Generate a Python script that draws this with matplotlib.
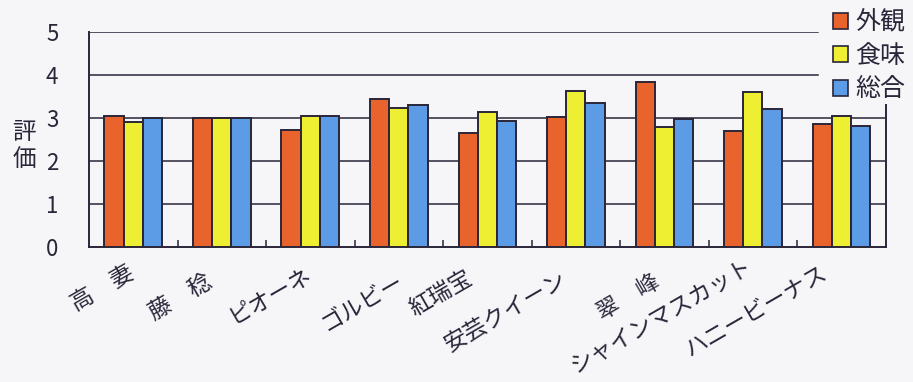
import numpy as np
import matplotlib.pyplot as plt
from matplotlib.patches import Patch

plt.rcParams['font.family'] = ['Noto Sans CJK JP', 'DejaVu Sans']

# data
varieties = ['高\u3000妻', '藤\u3000稔', 'ピオーネ', 'ゴルビー', '紅瑞宝',
             '安芸クイーン', '翠\u3000峰', 'シャインマスカット', 'ハニービーナス']
gaikan = [3.05, 3.00, 2.72, 3.44, 2.65, 3.02, 3.84, 2.70, 2.86]
shokumi = [2.90, 3.00, 3.05, 3.23, 3.14, 3.63, 2.80, 3.60, 3.04]
sogo = [3.00, 3.00, 3.05, 3.30, 2.93, 3.35, 2.98, 3.21, 2.81]
series_names = ['外観', '食味', '総合']
y_ticks = [0, 1, 2, 3, 4, 5]

colors = ['#e8642c', '#eeee32', '#5c9be6']
ink = '#2a2538'
bg = '#f6f6f9'

fig = plt.figure(figsize=(9.13, 3.82), dpi=100, facecolor=bg)
ax = fig.add_axes([0.0975, 0.3534, 0.8725, 0.5628])
ax.set_facecolor(bg)

x = np.arange(len(varieties))
w = 0.217
for k, vals in enumerate([gaikan, shokumi, sogo]):
    ax.bar(x + (k - 1) * w, vals, width=w, color=colors[k],
           edgecolor=ink, linewidth=1.4, zorder=3)

# horizontal rules behind bars; the top two stop short of the legend
for yv in y_ticks[1:]:
    xmax = 0.915 if yv >= 4 else 1.0
    ax.axhline(yv, xmin=0, xmax=xmax, color=ink, lw=1.1, zorder=1)

ax.set_xlim(-0.5, len(varieties) - 0.5)
ax.set_ylim(0, 5)
ax.set_yticks(y_ticks)
ax.tick_params(axis='y', direction='in', length=0, pad=22, labelsize=16,
               colors=ink)
ax.set_xticks(x)
ax.set_xticklabels([])
ax.tick_params(axis='x', which='major', length=0)
ax.set_xticks(x[:-1] + 0.5, minor=True)
ax.tick_params(axis='x', which='minor', direction='in', length=5,
               width=1.1, color=ink)

for s in ['left', 'bottom', 'right']:
    ax.spines[s].set_color(ink)
    ax.spines[s].set_linewidth(1.4)
ax.spines['top'].set_visible(False)
ax.spines['right'].set_bounds(0, 3.3)
ax.spines['left'].set_bounds(0, 5)

# rotated category labels
label_dx = [-7, -17, -6, -2, -23, -16, -12, -8, -22]
label_dy = [-14, -23, -16, -23, -19, -21, -23, -8, -14]
for i, name in enumerate(varieties):
    ax.annotate(name, xy=(i, 0), xycoords=('data', 'axes fraction'),
                xytext=(label_dx[i], label_dy[i]), textcoords='offset pixels',
                rotation=30, ha='right', va='top', rotation_mode='anchor',
                fontsize=16.5, color=ink)

fig.text(24 / 913, 1 - 146 / 382, '評\n価', ha='center', va='center',
         fontsize=17, color=ink, linespacing=1.25)

handles = [Patch(facecolor=c, edgecolor=ink, linewidth=1.2) for c in colors]
fig.legend(handles, series_names, loc='upper left',
           bbox_to_anchor=(820 / 913, 1 + 3 / 382), frameon=False,
           fontsize=18, handlelength=0.6, handleheight=0.6,
           handletextpad=0.3, labelspacing=0.3, borderpad=0,
           labelcolor=ink)

fig.savefig('out.png', dpi=100, facecolor=bg)
